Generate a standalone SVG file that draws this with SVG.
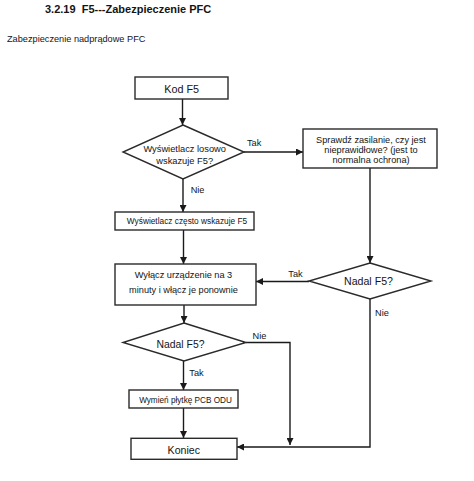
<svg xmlns="http://www.w3.org/2000/svg" width="474" height="481" viewBox="0 0 474 481">
<defs>
<marker id="arr" markerWidth="7" markerHeight="7" refX="7" refY="3.5" orient="auto" markerUnits="userSpaceOnUse">
<path d="M0,0 L7,3.5 L0,7 z" fill="#1a1a1a"/>
</marker>
<style>
.t{font-family:"Liberation Sans",Arial,sans-serif;fill:#141414}
.b{fill:#fff;stroke:#2a2a2a;stroke-width:1.4}
.c{fill:none;stroke:#1a1a1a;stroke-width:1.4}
.ca{fill:none;stroke:#1a1a1a;stroke-width:1.4;marker-end:url(#arr)}
</style>
</defs>
<rect width="474" height="481" fill="#fff"/>
<text class="t" x="45" y="13" font-size="11" font-weight="bold" xml:space="preserve">3.2.19  F5---Zabezpieczenie PFC</text>
<text class="t" x="7" y="41.7" font-size="9.2">Zabezpieczenie nadprądowe PFC</text>

<g id="connectors">
<path class="ca" d="M182.5,99 V125"/>
<path class="ca" d="M244,152 H303"/>
<path class="ca" d="M183,179 V212"/>
<path class="ca" d="M183.5,230 V264"/>
<path class="ca" d="M370,168 V263"/>
<path class="ca" d="M309,281.5 H256"/>
<path class="ca" d="M184,305 V323"/>
<path class="ca" d="M183.5,361 V390"/>
<path class="ca" d="M183.5,408 V438"/>
<path class="ca" d="M246,342.5 H290 V445"/>
<path class="ca" d="M370,299 V447 H237"/>
<text class="t" x="247" y="146" font-size="9.2">Tak</text>
<text class="t" x="190.7" y="192.7" font-size="9.2">Nie</text>
<text class="t" x="288.3" y="276.7" font-size="9.2">Tak</text>
<text class="t" x="375" y="316" font-size="9.2">Nie</text>
<text class="t" x="252.5" y="339.3" font-size="9.2">Nie</text>
<text class="t" x="189.3" y="376" font-size="9.2">Tak</text>
</g>

<g id="kod">
<rect class="b" x="135" y="77" width="93" height="22"/>
<text class="t" x="181.7" y="92.7" font-size="10.8" text-anchor="middle">Kod F5</text>
</g>

<g id="losowo">
<polygon class="b" points="183,125 244,152 183,179 123,152"/>
<text class="t" x="184.7" y="151.5" font-size="9.3" text-anchor="middle">Wyświetlacz losowo</text>
<text class="t" x="184.7" y="164" font-size="9.3" text-anchor="middle">wskazuje F5?</text>
</g>

<g id="sprawdz">
<rect class="b" x="303" y="129" width="134" height="39"/>
<text class="t" x="371" y="143.3" font-size="9.2" text-anchor="middle">Sprawdź zasilanie, czy jest</text>
<text class="t" x="371" y="153" font-size="9.2" text-anchor="middle">nieprawidłowe? (jest to</text>
<text class="t" x="371" y="162.7" font-size="9.2" text-anchor="middle">normalna ochrona)</text>
</g>

<g id="czesto">
<rect class="b" x="115" y="212" width="139" height="18"/>
<text class="t" x="187" y="223.5" font-size="8.3" text-anchor="middle">Wyświetlacz często wskazuje F5</text>
</g>

<g id="nadal1">
<polygon class="b" points="370,263 431,281 370,299 309,281"/>
<text class="t" x="368.5" y="285" font-size="10.6" text-anchor="middle">Nadal F5?</text>
</g>

<g id="wylacz">
<rect class="b" x="115" y="264" width="141" height="41"/>
<text class="t" x="183.5" y="277.7" font-size="9.2" text-anchor="middle">Wyłącz urządzenie na 3</text>
<text class="t" x="183.5" y="292.7" font-size="9.2" text-anchor="middle">minuty i włącz je ponownie</text>
</g>

<g id="nadal2">
<polygon class="b" points="184,323 246,342.5 184,361 123,342.5"/>
<text class="t" x="180.5" y="348.3" font-size="10.4" text-anchor="middle">Nadal F5?</text>
</g>

<g id="pcb">
<rect class="b" x="129" y="390" width="109" height="18"/>
<text class="t" x="185.5" y="402.7" font-size="8.2" text-anchor="middle">Wymień płytkę PCB ODU</text>
</g>

<g id="koniec">
<rect class="b" x="131" y="438.3" width="106" height="21"/>
<text class="t" x="183.8" y="454" font-size="10.6" text-anchor="middle">Koniec</text>
</g>
</svg>
